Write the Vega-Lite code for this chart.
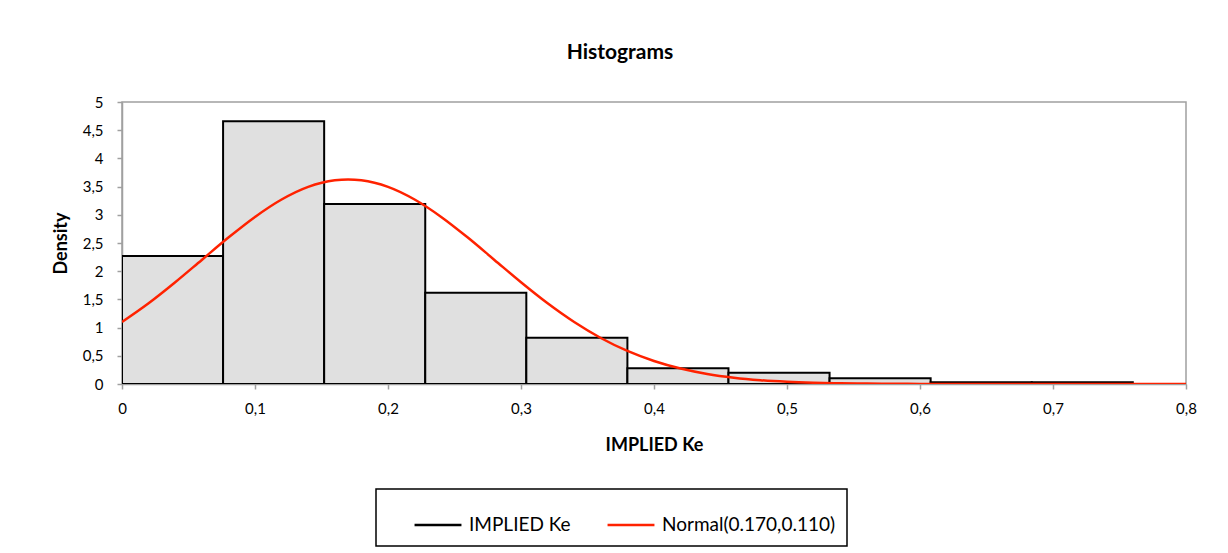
{
  "$schema": "https://vega.github.io/schema/vega-lite/v6.json",
  "width": 1064,
  "height": 282,
  "autosize": {"type": "none"},
  "padding": {"left": 122, "top": 102, "right": 42, "bottom": 169},
  "background": "white",
  "title": {"text": "Histograms", "font": "Lato", "fontSize": 21, "fontWeight": "bold", "color": "#000", "offset": 32, "dx": -34},
  "datasets": {
    "bins": [
      {"start": 0.0, "end": 0.076, "density": 2.27, "series": "IMPLIED Ke"},
      {"start": 0.076, "end": 0.152, "density": 4.66, "series": "IMPLIED Ke"},
      {"start": 0.152, "end": 0.228, "density": 3.19, "series": "IMPLIED Ke"},
      {"start": 0.228, "end": 0.304, "density": 1.62, "series": "IMPLIED Ke"},
      {"start": 0.304, "end": 0.38, "density": 0.82, "series": "IMPLIED Ke"},
      {"start": 0.38, "end": 0.456, "density": 0.28, "series": "IMPLIED Ke"},
      {"start": 0.456, "end": 0.532, "density": 0.2, "series": "IMPLIED Ke"},
      {"start": 0.532, "end": 0.608, "density": 0.1, "series": "IMPLIED Ke"},
      {"start": 0.608, "end": 0.684, "density": 0.033, "series": "IMPLIED Ke"},
      {"start": 0.684, "end": 0.76, "density": 0.033, "series": "IMPLIED Ke"}
    ],
    "normal": [
      {"x": 0.0, "y": 1.099, "series": "Normal(0.170,0.110)"},
      {"x": 0.02, "y": 1.431, "series": "Normal(0.170,0.110)"},
      {"x": 0.04, "y": 1.804, "series": "Normal(0.170,0.110)"},
      {"x": 0.06, "y": 2.2, "series": "Normal(0.170,0.110)"},
      {"x": 0.08, "y": 2.596, "series": "Normal(0.170,0.110)"},
      {"x": 0.1, "y": 2.962, "series": "Normal(0.170,0.110)"},
      {"x": 0.12, "y": 3.271, "series": "Normal(0.170,0.110)"},
      {"x": 0.14, "y": 3.495, "series": "Normal(0.170,0.110)"},
      {"x": 0.16, "y": 3.612, "series": "Normal(0.170,0.110)"},
      {"x": 0.17, "y": 3.627, "series": "Normal(0.170,0.110)"},
      {"x": 0.18, "y": 3.612, "series": "Normal(0.170,0.110)"},
      {"x": 0.2, "y": 3.495, "series": "Normal(0.170,0.110)"},
      {"x": 0.22, "y": 3.271, "series": "Normal(0.170,0.110)"},
      {"x": 0.24, "y": 2.962, "series": "Normal(0.170,0.110)"},
      {"x": 0.26, "y": 2.596, "series": "Normal(0.170,0.110)"},
      {"x": 0.28, "y": 2.2, "series": "Normal(0.170,0.110)"},
      {"x": 0.3, "y": 1.804, "series": "Normal(0.170,0.110)"},
      {"x": 0.32, "y": 1.431, "series": "Normal(0.170,0.110)"},
      {"x": 0.34, "y": 1.099, "series": "Normal(0.170,0.110)"},
      {"x": 0.36, "y": 0.816, "series": "Normal(0.170,0.110)"},
      {"x": 0.38, "y": 0.586, "series": "Normal(0.170,0.110)"},
      {"x": 0.4, "y": 0.408, "series": "Normal(0.170,0.110)"},
      {"x": 0.42, "y": 0.274, "series": "Normal(0.170,0.110)"},
      {"x": 0.44, "y": 0.178, "series": "Normal(0.170,0.110)"},
      {"x": 0.46, "y": 0.112, "series": "Normal(0.170,0.110)"},
      {"x": 0.48, "y": 0.068, "series": "Normal(0.170,0.110)"},
      {"x": 0.5, "y": 0.04, "series": "Normal(0.170,0.110)"},
      {"x": 0.52, "y": 0.023, "series": "Normal(0.170,0.110)"},
      {"x": 0.54, "y": 0.013, "series": "Normal(0.170,0.110)"},
      {"x": 0.56, "y": 0.007, "series": "Normal(0.170,0.110)"},
      {"x": 0.58, "y": 0.0035, "series": "Normal(0.170,0.110)"},
      {"x": 0.6, "y": 0.0017, "series": "Normal(0.170,0.110)"},
      {"x": 0.65, "y": 0.0003, "series": "Normal(0.170,0.110)"},
      {"x": 0.7, "y": 0.0, "series": "Normal(0.170,0.110)"},
      {"x": 0.75, "y": 0.0, "series": "Normal(0.170,0.110)"},
      {"x": 0.8, "y": 0.0, "series": "Normal(0.170,0.110)"}
    ]
  },
  "layer": [
    {
      "data": {"name": "bins"},
      "mark": {"type": "bar", "fill": "#e0e0e0", "strokeWidth": 2, "clip": true, "orient": "vertical"},
      "encoding": {
        "x": {"field": "start", "type": "quantitative",
          "scale": {"domain": [0, 0.8], "nice": false, "zero": false, "padding": 0},
          "axis": {"values": [0, 0.1, 0.2, 0.3, 0.4, 0.5, 0.6, 0.7, 0.8], "title": "IMPLIED Ke", "labelOverlap": false, "labelFlush": false, "labelExpr": "replace(format(datum.value, '.1~f'), '.', ',')"}},
        "x2": {"field": "end"},
        "y": {"field": "density", "type": "quantitative",
          "scale": {"domain": [0, 5], "nice": false},
          "axis": {"values": [0, 0.5, 1, 1.5, 2, 2.5, 3, 3.5, 4, 4.5, 5], "title": "Density", "labelOverlap": false, "labelExpr": "replace(format(datum.value, '.1~f'), '.', ',')"}},
        "y2": {"datum": 0},
        "stroke": {"field": "series", "type": "nominal",
          "scale": {"domain": ["IMPLIED Ke", "Normal(0.170,0.110)"], "range": ["#000000", "#ff2200"]},
          "legend": {"title": null}}
      }
    },
    {
      "data": {"name": "normal"},
      "mark": {"type": "line", "strokeWidth": 2.5, "interpolate": "monotone", "clip": true},
      "encoding": {
        "x": {"field": "x", "type": "quantitative",
          "axis": {"values": [0, 0.1, 0.2, 0.3, 0.4, 0.5, 0.6, 0.7, 0.8], "title": "IMPLIED Ke", "labelOverlap": false, "labelFlush": false, "labelExpr": "replace(format(datum.value, '.1~f'), '.', ',')"}},
        "y": {"field": "y", "type": "quantitative",
          "axis": {"values": [0, 0.5, 1, 1.5, 2, 2.5, 3, 3.5, 4, 4.5, 5], "title": "Density", "labelOverlap": false, "labelExpr": "replace(format(datum.value, '.1~f'), '.', ',')"}},
        "stroke": {"field": "series", "type": "nominal"}
      }
    }
  ],
  "config": {
    "font": "Lato",
    "view": {"stroke": "#a0a0a0", "strokeWidth": 1.5},
    "axis": {
      "grid": false,
      "domainColor": "#a0a0a0",
      "domainWidth": 1.5,
      "tickColor": "#a0a0a0",
      "tickWidth": 1.5,
      "tickSize": 5,
      "labelFont": "Lato",
      "labelFontSize": 15,
      "labelColor": "#000",
      "labelOverlap": false,
      "labelFlush": false,
      "titleFont": "Lato",
      "titleFontSize": 18,
      "titleFontWeight": "bold",
      "titleColor": "#000"
    },
    "axisX": {"labelPadding": 12, "titlePadding": 20},
    "axisY": {"labelPadding": 14, "titlePadding": 12},
    "legend": {
      "orient": "none",
      "legendX": 254,
      "legendY": 387,
      "direction": "horizontal",
      "strokeColor": "#000",
      "strokeWidth": 1.5,
      "padding": 11,
      "symbolType": "stroke",
      "symbolSize": 2200,
      "symbolStrokeWidth": 2.5,
      "symbolOffset": 26,
      "labelFont": "Lato",
      "labelFontSize": 19,
      "labelLimit": 400,
      "labelColor": "#000",
      "columnPadding": 9,
      "labelOffset": 6
    }
  }
}
